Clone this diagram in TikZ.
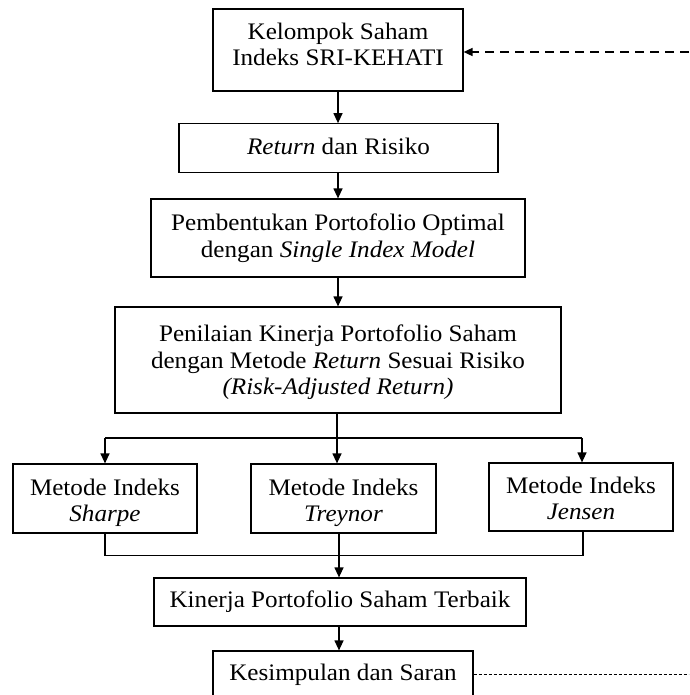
\documentclass[tikz,border=0pt]{standalone}
\usepackage{fontspec}
\setmainfont{Liberation Serif}[FakeStretch=1.06]
\usetikzlibrary{arrows.meta}
\newcommand{\upH}[1]{\rule{0pt}{#1}}
\newcommand{\dnD}[1]{\rule[-#1]{0pt}{#1}}
\begin{document}
\begin{tikzpicture}[x=1pt,y=-1pt,
  box/.style={draw, line width=1.2pt, align=center, inner sep=0pt,
    font=\fontsize{23.7}{26.5}\selectfont},
  arr/.style={line width=1.2pt, -{Triangle[length=10pt,width=9pt]}},
  ln/.style={line width=1.2pt}]
\useasboundingbox (0,0) rectangle (689,695);
\clip (0,0) rectangle (689,695);
\fill[white] (0,0) rectangle (689,695);
\node[box, minimum width=250, minimum height=82] (b1) at (338,50) {Kelompok Saham\\Indeks SRI-KEHATI\dnD{11pt}};
\node[box, minimum width=319, minimum height=48.5] (b2) at (338.5,148) {\textit{Return} dan Risiko\dnD{4pt}};
\node[box, minimum width=374, minimum height=78] (b3) at (338,238) {Pembentukan Portofolio Optimal\\dengan \textit{Single Index Model}};
\node[box, minimum width=446, minimum height=106] (b4) at (338,360) {\upH{22pt}Penilaian Kinerja Portofolio Saham\\dengan Metode \textit{Return} Sesuai Risiko\\\textit{(Risk-Adjusted Return)}\dnD{6pt}};
\node[box, minimum width=184, minimum height=69] (sh) at (105,498.5) {\upH{25.5pt}Metode Indeks\\\textit{Sharpe}\dnD{6pt}};
\node[box, minimum width=185, minimum height=69] (tr) at (343.5,498.5) {\upH{25.5pt}Metode Indeks\\\textit{Treynor}\dnD{6pt}};
\node[box, minimum width=184, minimum height=68] (je) at (581,497) {\upH{24.5pt}Metode Indeks\\\textit{Jensen}\dnD{6pt}};
\node[box, minimum width=372, minimum height=48] (kin) at (340,602) {Kinerja Portofolio Saham Terbaik};
\node[box, minimum width=260, minimum height=56] (kes) at (343,679) {Kesimpulan dan Saran\dnD{14pt}};
\coordinate (right1) at (689,52);
\coordinate (right2) at (689,674);
\coordinate (brL) at (105,438);
\coordinate (brC) at (337,438);
\coordinate (brR) at (582,438);
\coordinate (mL) at (105,555.5);
\coordinate (mC) at (339,555.5);
\coordinate (mR) at (583,555.5);
\draw[arr] (b1.south) -- (b1.south |- b2.north);
\draw[arr] (b2.south -| b1.south) -- (b1.south |- b3.north);
\draw[arr] (b3.south -| b1.south) -- (b1.south |- b4.north);
\draw[ln] (brC |- b4.south) -- (brC);
\draw[ln] (brL) -- (brR);
\draw[arr] (brL) -- (brL |- sh.north);
\draw[arr] (brC) -- (brC |- tr.north);
\draw[arr] (brR) -- (brR |- je.north);
\draw[ln] (mL |- sh.south) -- (mL) -- (mR) -- (mR |- je.south);
\draw[arr] (mC |- tr.south) -- (mC |- kin.north);
\draw[arr] (mC |- kin.south) -- (mC |- kes.north);
\draw[line width=1.6pt, dash pattern=on 9pt off 6pt, -{Triangle[length=9pt,width=8pt]}] (right1) -- (right1 -| b1.east);
\draw[line width=0.7pt, dash pattern=on 3pt off 2pt] (kes.east |- right2) -- (right2);
\end{tikzpicture}
\end{document}
